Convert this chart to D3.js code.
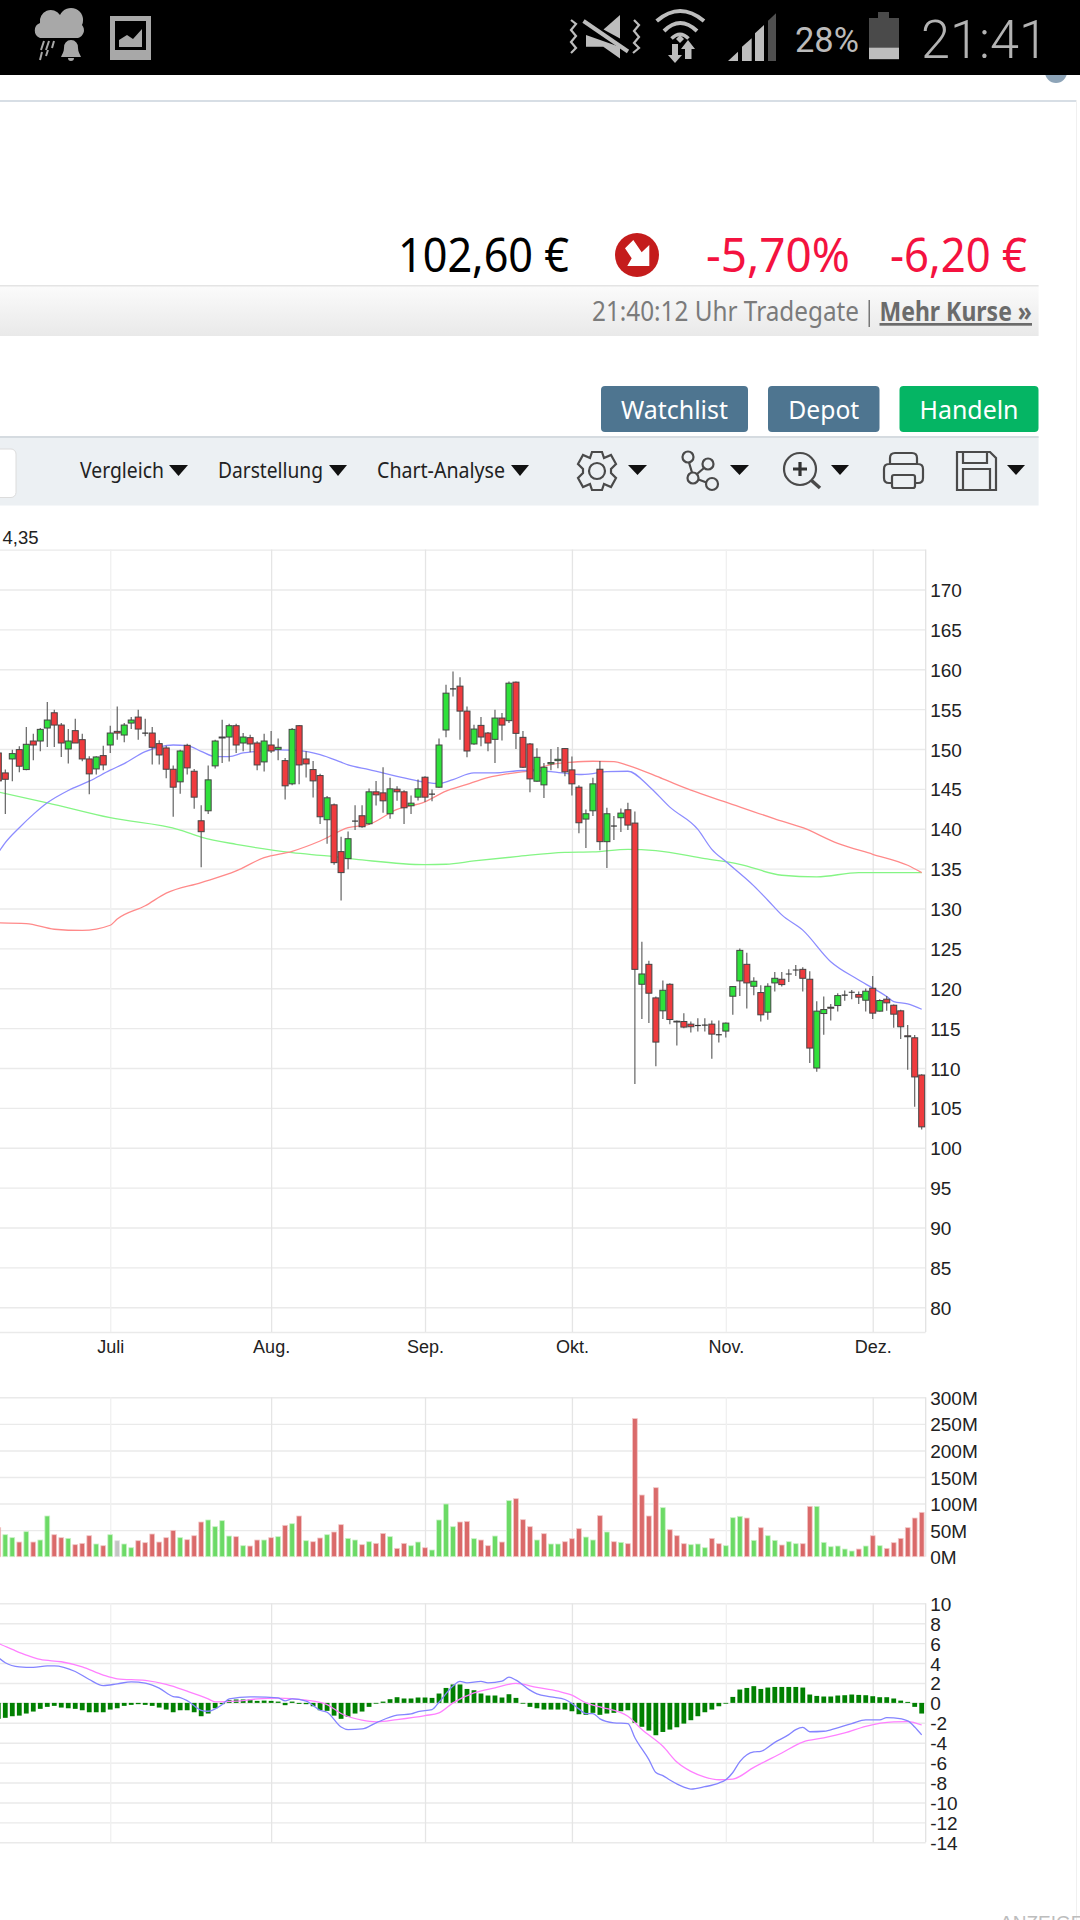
<!DOCTYPE html>
<html><head><meta charset="utf-8">
<script src="https://cdn.jsdelivr.net/npm/d3@7"></script>
<style>html,body{margin:0;padding:0;background:#fff;overflow:hidden}svg{display:block}</style>
</head><body><div id="c"></div>
<script>
// ---- data (first entry = day -1, partly cut by the left edge) ----
const firstDay = -1;
const open = [149.5,147,148.75,149.92,147.42,151,151,152.63,154.54,153,150,152.3,151.17,148.75,147.5,149.17,150.5,152.21,151.75,153.25,154,152,152,150.67,150.13,147.46,145.88,150.46,147.21,141,142.25,147.88,151.38,151.5,152.92,150.75,151.42,150.75,148.38,150.5,149.96,148.54,145.63,152.92,148.75,147.42,146.67,141.13,143,137.13,136.25,140.96,141.63,140.63,144.63,144.5,141.88,144.96,144.63,142.88,143.96,146.46,144.34,145.21,152.38,157.54,157.88,154.75,150.63,152.96,152,151.21,153.88,153.55,158.38,151.46,150.63,145.96,145.5,148.13,148.54,150.05,147.38,145.21,141.21,142.25,147.46,138.38,140.34,141.38,142.38,140.71,120.5,123,118.79,117.17,120.5,115.87,115.83,115.5,115.33,115.38,115.5,114.17,114.63,119,120.92,123,120.25,119.46,117,120.67,121.13,121.79,122.29,122.37,121.13,110,116.83,117.62,117.83,119.13,119.5,119.21,118.5,120,117.13,118.63,117.87,117.17,114.04,113.79,109.12];
const close = [146,146.2,149.42,147.84,150.59,150.5,152.46,153.63,153,150.75,151,150.75,148.75,146.88,149,148,152,152,153,153.63,152.5,152,150.21,149.25,147.46,145.21,149.75,147.63,143.96,139.63,146.13,151,151.5,152.92,150.5,151.5,150.63,148,151,149.75,150.21,145.38,152.46,148,148.13,146,141.5,143.88,135.75,134.5,138.75,140.96,140.25,144.63,144.25,143.5,145,144.63,142.63,143.21,145,143.96,144.34,150.5,157,157.54,154.75,149.75,152.5,151.5,150.75,153.88,153,158.25,151.96,147.71,146.25,148.96,147.71,148.3,148.71,147.13,145.63,140.75,141.88,145.63,138.38,141.88,140.34,141.96,140.46,122.37,121.79,119.38,113.25,119.75,116.08,115.83,115.13,115.17,115.33,115.38,114.25,114.17,115.63,120.21,124.75,120.67,120.88,116.67,120.25,121.25,120.46,121.79,122.29,121.25,112.5,117.13,117.33,117.5,119.08,119.13,119.5,118.88,119.63,116.88,118.46,118.17,116.75,115.17,113.92,108.88,102.62];
const high = [149.7,147.42,149.92,150.34,152.75,151.92,152.63,155.88,154.92,153.25,152.5,153.8,151.92,149.09,149.09,150.42,152.92,155.34,153.25,154,154.92,153.8,152.75,151.09,150.42,147.92,149.92,150.67,147.5,142.96,147.92,151.17,153.67,153.17,153.17,152,151.8,150.96,151.92,152.25,151.3,148.88,152.63,153,149.71,148.5,146.88,144.09,143.17,139,139.67,142.96,142.96,145.05,146,147.71,146.38,145.34,144.84,144.17,146.17,146.59,144.92,151.3,158.05,159.71,159,155.34,153.05,154,152.13,154.92,154.5,158.46,158.46,152.25,150.75,150.09,148.25,150,150.25,150.13,149.05,145.46,142.42,146.38,148.5,142.63,141.59,142.55,143.25,142.17,125.83,123.46,118.96,120.96,120.63,115.96,116.88,115.83,116.25,116.25,115.96,115.96,115.71,120.29,125,124.46,121.38,120.38,120.63,122.04,122.04,122.38,122.92,122.63,122.13,118.38,118.96,118.04,119.38,119.71,119.79,119.58,119.96,121.54,118.63,119.04,117.96,117.29,115.38,114.13,109.21];
const low = [145.3,141.84,145.96,147.09,147.34,148.59,149.71,150.25,150.25,149,148.17,150.75,148.46,144.34,146.8,147.34,149.5,151.17,150.84,152.5,151.17,151.59,148.05,148.05,146.34,141.5,144.38,146.8,142.5,135.17,141.84,147.55,148.25,148.42,149.5,149.71,149.59,147.34,147.17,149.5,148.59,143.67,145.46,145.59,146.42,143.92,140.59,138.13,135.5,131,134.92,139.84,140.13,140.5,142.92,142,141.25,143.5,140.59,141.84,143.55,143.34,143.46,145.13,151.46,156.59,151.17,148.96,150.54,150.34,149.71,148.25,151.05,153.25,150,147.63,144.59,145.88,143.84,147.34,147.59,146.59,144.17,139.42,137.59,141.59,137.3,135.09,138.59,139.59,139.84,108,116.13,115.63,110.21,116.13,115.5,112.83,115,114.46,114.58,114.58,111.17,113.21,113.83,116.67,119.04,117.46,119.13,115.83,116.04,119.58,120.21,120.79,121.54,119.58,110.63,109.54,114.17,115.96,117.08,118.42,118.63,118.04,117.08,116.13,117.08,117.17,115.04,113.63,109.79,105.13,102.29];

const volume = [54.6,41.4,35.8,27.6,47.1,27.6,31.4,76.6,41.4,35.8,34.5,22.6,25.1,39.5,23.9,20.7,41.4,30.1,23.9,16.9,30.1,26.4,42.7,27.6,35.8,49.6,35.8,32,39.5,65.3,69.1,56.5,67.8,38.9,37.7,20.7,20.1,31.4,31.4,35.8,37.7,59,62.1,76.6,30.1,28.2,35.2,41.4,46.5,60.3,34.5,31.4,22.6,28.2,25.1,43.9,37.7,15.7,25.1,20.7,27.6,16.9,12.6,69.1,99.2,56.5,65.3,66.5,33.9,31.4,20.7,38.9,27.6,105.5,109.2,69.7,56.5,31.4,43.3,23.9,23.9,28.2,33.9,52.7,37,31.4,77.2,46.5,28.2,27,24.5,259.9,116.1,76.6,129.9,92.3,50.8,39.5,24.5,22.6,23.9,16.9,34.5,24.5,20.7,73.4,76,72.8,30.8,54.6,39.5,30.8,22,28.2,24.5,24.5,94.8,94.8,27,18.8,20.1,14.4,10.7,14.4,20.1,39.5,20.7,15.7,26.4,34.5,54.6,72.8,83.5];
// g = up, d = down, n = unchanged
const volumeDir = ["d","g","g","d","g","d","g","g","d","d","g","d","d","d","g","d","g","n","g","g","d","d","d","d","d","d","g","d","d","d","g","g","g","g","d","g","d","d","g","d","g","d","g","d","g","d","d","g","d","d","g","g","d","g","d","d","g","d","d","g","g","d","g","g","g","g","d","d","g","d","d","g","d","g","d","d","d","g","d","g","g","d","d","d","g","g","d","g","d","g","d","d","d","d","d","g","d","d","d","g","g","g","d","d","g","g","g","d","g","d","g","g","d","g","g","d","d","g","g","g","g","g","g","d","g","d","g","d","d","d","d","d","d"];

const macdHist = [-1.6,-1.5,-1.34,-1.28,-1.07,-0.87,-0.6,-0.4,-0.3,-0.47,-0.54,-0.6,-0.74,-0.94,-0.94,-0.94,-0.67,-0.54,-0.3,-0.2,-0.13,-0.2,-0.3,-0.47,-0.67,-0.94,-0.74,-0.74,-0.94,-1.34,-1.07,-0.54,-0.13,0.27,0.34,0.34,0.34,0.2,0.23,0.2,0.13,-0.23,0.13,-0.1,-0.13,-0.34,-0.74,-0.8,-1.28,-1.6,-1.4,-1.07,-0.87,-0.4,-0.05,0.13,0.37,0.57,0.44,0.44,0.54,0.54,0.5,0.94,1.5,1.85,1.85,1.4,1.27,0.94,0.74,0.74,0.54,0.87,0.5,0,-0.4,-0.54,-0.67,-0.67,-0.67,-0.67,-0.84,-1.14,-1.2,-1,-1.2,-1.07,-1,-0.84,-0.74,-2,-2.4,-2.78,-3.25,-2.92,-2.68,-2.45,-2.08,-1.74,-1.34,-0.94,-0.67,-0.34,-0.03,0.6,1.34,1.5,1.68,1.4,1.54,1.6,1.6,1.6,1.6,1.54,0.84,0.7,0.64,0.64,0.74,0.77,0.84,0.8,0.77,0.67,0.57,0.57,0.44,0.23,0.1,-0.4,-1.07];

const maBlueDays = [-1,0,2,4,6,9,12,15,17,20,22,24,26,28,30,32,34,36,39,42,45,48,49,52,57,60,62,64,67,70,74,78,82,84,86,89,92,95,99,101,103,107,109,111,114,118,122,126,127,129,131];
const maBlue = [137,138.25,140.13,141.8,143.25,144.8,145.96,147.34,148.17,149.67,150.25,150.5,150.42,149.71,149.05,149.05,149.5,149.71,149.88,149.8,149.3,148.34,148,147.42,146.38,145.84,145.67,146.17,147,147,147.3,147.17,146.8,146.92,147.17,147.21,145.34,142.71,139.92,137.42,135.88,132.84,131.04,129.2,127.29,123.33,121.04,118.96,118.33,118.04,117.37];
const maRedDays = [-1,3,7,11,15,16,20,23,28,33,37,41,45,49,52,56,60,63,66,68,72,75,78,81,84,87,89,94,98,103,110,114,119,124,129,131];
const maRed = [128.2,128.1,127.4,127.25,127.9,128.67,130.34,131.92,133.25,134.71,136.38,137.17,138.46,140.13,140.55,142.42,143.38,144.71,145.55,146.17,146.92,147.3,148.05,148.34,148.46,148.42,147.96,146.25,144.84,143.34,141.25,140.13,138.17,136.8,135.42,134.5];
const maGreenDays = [-1,6,15,25,28,33,35,41,46,51,60,63,67,73,80,84,89,93,100,105,111,116,122,131];
const maGreen = [144.6,143.25,141.38,139.84,138.96,138.05,137.75,137,136.59,136.09,135.5,135.55,135.96,136.5,137.04,137.09,137.42,137.25,136.25,135.54,134.17,133.96,134.5,134.5];

const macdDays = [-1,0,2,4,6,7,10,12,14,16,18,20,22,24,25,26,28,29,31,32,35,39,40,41,43,45,46,48,49,51,53,56,58,59,61,62,64,65,66,68,69,71,72,73,75,76,78,80,81,82,83,84,85,87,89,90,92,93,94,95,97,98,100,102,103,104,105,107,108,110,112,113,114,115,117,118,121,123,125,126,127,129,130,131];
const macdLine = [4.55,4.03,3.62,3.56,3.72,3.72,3.15,2.35,1.74,1.91,2.11,1.98,1.48,0.64,0.54,0.23,-0.74,-0.84,-0.17,0.4,0.6,0.5,0.2,0.4,0.17,-0.74,-0.94,-2.42,-2.68,-2.62,-2,-1.24,-1.11,-0.87,-0.67,0.07,1.7,2.15,2,2.15,2,2.18,2.58,2.28,1.28,0.9,0.6,0.34,-0.07,-0.6,-1.07,-1.07,-1.6,-2,-2.08,-3.5,-5.7,-7,-7.3,-7.75,-8.46,-8.66,-8.42,-8.05,-7.72,-6.99,-5.9,-4.93,-4.87,-3.96,-3.19,-2.68,-2.45,-2.9,-2.85,-2.7,-2.08,-1.71,-1.71,-1.48,-1.51,-1.8,-2.42,-3.22];
const signalDays = [-1,1,3,5,8,11,14,16,20,23,26,29,30,33,36,39,43,46,48,51,53,56,60,62,64,67,70,73,76,79,81,83,85,89,91,94,96,98,100,102,104,107,111,114,117,120,123,127,129,131];
const signalLine = [5.97,5.37,4.8,4.36,4.13,3.62,2.79,2.42,2.25,1.85,1.17,0.4,0.1,0.17,0.4,0.47,0.27,-0.17,-1.07,-1.74,-1.91,-1.68,-1.28,-1,0,1,1.51,1.95,1.55,1.17,0.77,0,-0.4,-1.34,-2.68,-4.36,-5.94,-6.88,-7.45,-7.72,-7.65,-6.48,-5.03,-3.93,-3.52,-3.02,-2.35,-1.91,-1.88,-2.22];

const priceTicks = [170,165,160,155,150,145,140,135,130,125,120,115,110,105,100,95,90,85,80];
const priceGrid = [175,...priceTicks,76.9];
const volumeTicks = [300,250,200,150,100,50,0];
const macdTicks = [10,8,6,4,2,0,-2,-4,-6,-8,-10,-12,-14];
const monthDays = [15,38,60,81,103,124];
const monthLabels = ["Juli","Aug.","Sep.","Okt.","Nov.","Dez."];

// ---- scales ----
const plotRight = 925.7;
const x = d3.scaleLinear().domain([0,131]).range([5.3,921.7]);
const yP = d3.scaleLinear().domain([76.9,175]).range([1332,549.6]);
const yV = d3.scaleLinear().domain([0,300]).range([1556.7,1397.3]);
const yM = d3.scaleLinear().domain([-14,10]).range([1842.3,1603.3]);
const days = open.map((_,i)=>i+firstDay);

const svg = d3.select("#c").append("svg").attr("width",1080).attr("height",1920).attr("viewBox","0 0 1080 1920");
const AX = "'Liberation Sans',Arial,sans-serif", UI = "'Noto Sans','Open Sans',sans-serif";
const defs = svg.append("defs");
defs.append("clipPath").attr("id","plot").append("rect").attr("x",0).attr("y",540).attr("width",plotRight).attr("height",1320);
const grad = defs.append("linearGradient").attr("id","bar").attr("x1",0).attr("x2",0).attr("y1",0).attr("y2",1);
grad.append("stop").attr("offset",0).attr("stop-color","#fbfbfb");
grad.append("stop").attr("offset",1).attr("stop-color","#e9e9e9");

function txt(s,x0,y0,size,fill,opts={}){
  const t = svg.append("text").attr("x",x0).attr("y",y0).attr("font-size",size).attr("fill",fill)
    .attr("font-family",opts.family||UI).text(s);
  if(opts.len){t.attr("textLength",opts.len).attr("lengthAdjust","spacingAndGlyphs");}
  if(opts.anchor)t.attr("text-anchor",opts.anchor);
  if(opts.weight)t.attr("font-weight",opts.weight);
  if(opts.deco)t.attr("text-decoration",opts.deco);
  return t;
}
const tri=(x0,x1,y0,y1,f="#111")=>svg.append("path").attr("d",`M${x0} ${y0}L${x1} ${y0}L${(x0+x1)/2} ${y1}Z`).attr("fill",f);

// ---- page chrome ----
svg.append("circle").attr("cx",1056).attr("cy",72).attr("r",11).attr("fill","#8da4b8");
svg.append("rect").attr("width",1080).attr("height",75).attr("fill","#000");
svg.append("rect").attr("x",0).attr("y",100).attr("width",1076).attr("height",2).attr("fill","#d7dee5");
svg.append("rect").attr("x",1076).attr("y",100).attr("width",1).attr("height",1820).attr("fill","#f0f0f0");

const G="#a8a8a8", S="#bdbdbd";
// cloud + rain + bell
svg.append("path").attr("fill",G).attr("d","M40 38a8 8 0 0 1 0-15 11 11 0 0 1 20-8 10 10 0 0 1 22 10 8 8 0 0 1-4 13Z");
svg.append("path").attr("stroke",G).attr("stroke-width",2).attr("d","M44 41l-3 9M49 41l-3 9M54 41l-2 7M42 52l-2 8M48 50l-2 6");
svg.append("path").attr("fill",G).attr("d","M71 40a7 7 0 0 0-7 8c0 4-2 6-3 9h20c-1-3-3-5-3-9a7 7 0 0 0-7-8ZM68 58a3 3 0 0 0 6 0Z");
// picture icon
svg.append("rect").attr("x",110).attr("y",16).attr("width",41).attr("height",44).attr("fill",G);
svg.append("rect").attr("x",115).attr("y",21).attr("width",31).attr("height",29).attr("fill","#000");
svg.append("path").attr("fill",G).attr("d","M119 47L119 40L127 35L133 39L142 29L142 47Z");
// mute
svg.append("path").attr("fill",S).attr("d","M603.5 29.5L620 15L620 38.5Z");
svg.append("path").attr("fill",S).attr("d","M586 35L586 46.7L603.3 46.7L620 58.5L620 47Z");
svg.append("path").attr("stroke",S).attr("stroke-width",4).attr("d","M583.5 21L628 51.5");
svg.append("path").attr("stroke",S).attr("stroke-width",2.2).attr("fill","none").attr("d","M571 20L576 24L571 30L576 36L571 42L576 48L571 53M634 20L639 25L634 31L639 37L634 43L639 48L633 53");
// wifi
const wifi=svg.append("g").attr("fill","none").attr("stroke",S).attr("stroke-linecap","butt");
wifi.append("path").attr("stroke-width",4).attr("d","M656.7 21Q680 1 704 21");
wifi.append("path").attr("stroke-width",4).attr("d","M664 31Q680 15 697 31");
wifi.append("path").attr("stroke-width",3.5).attr("d","M671.5 38.5Q680 30 688.5 38.5");
svg.append("path").attr("fill",S).attr("d","M676 39L680 35L684 39L680 43Z");
svg.append("path").attr("fill",S).attr("d","M672 44L678 44L678 55L682 55L675 63L668 55L672 55ZM688 40L695 49L691.5 49L691.5 59L685 59L685 49L681 49Z");
// signal
svg.append("path").attr("fill",S).attr("d","M728 61L738 61L738 51.7Z");
svg.append("path").attr("fill",S).attr("d","M742 61L751.7 61L751.7 38.3L742 46.7Z");
svg.append("path").attr("fill",S).attr("d","M755 61L764 61L764 25L755 33.3Z");
svg.append("path").attr("fill","#505050").attr("d","M768 61L776 61L776 13.3L768 20.7Z");
txt("28%",795,52,35,"#bbb",{family:"Roboto,sans-serif",len:64});
svg.append("rect").attr("x",878).attr("y",12).attr("width",11).attr("height",6).attr("fill","#4a4a4a");
svg.append("rect").attr("x",869).attr("y",18).attr("width",30).attr("height",30).attr("fill","#4a4a4a");
svg.append("rect").attr("x",869).attr("y",47.7).attr("width",30).attr("height",11.5).attr("fill",S);
txt("21:41",921,58,53,"#b3b3b3",{family:"Roboto,sans-serif",len:127,weight:300});

// price line
txt("102,60 €",398,272,47,"#000",{len:171});
svg.append("circle").attr("cx",637).attr("cy",255).attr("r",22).attr("fill","#c41c1c");
svg.append("path").attr("fill","#fff").attr("d","M633.3 240L625 248.3L631.7 258.3L627.3 266L649.3 266L649.3 245L641.7 252.3Z");
txt("-5,70%",706,272,47,"#f4123f",{len:144});
txt("-6,20 €",890,272,47,"#f4123f",{len:137});

svg.append("rect").attr("y",286).attr("width",1038.6).attr("height",50).attr("fill","url(#bar)");
svg.append("rect").attr("y",285).attr("width",1038.6).attr("height",1.5).attr("fill","#e4e4e4");
txt("21:40:12 Uhr Tradegate",592,321,27,"#7b7b7b",{len:267});
svg.append("rect").attr("x",868.5).attr("y",300).attr("width",1.5).attr("height",27).attr("fill","#777");
txt("Mehr Kurse »",879.5,321,27,"#6b6b6b",{len:152.5,weight:700,deco:"underline"});

// buttons
[["Watchlist",601,147,"#4e7590",107],["Depot",768,111.5,"#4e7590",71],["Handeln",899.5,139,"#05b564",99]].forEach(([s,bx,w,f,len])=>{
  svg.append("rect").attr("x",bx).attr("y",386).attr("width",w).attr("height",46).attr("rx",4).attr("fill",f);
  txt(s,bx+w/2,419,26,"#fff",{anchor:"middle",len});
});

// toolbar
svg.append("rect").attr("y",437).attr("width",1038.6).attr("height",68.5).attr("fill","#ecf0f3");
svg.append("rect").attr("y",436).attr("width",1038.6).attr("height",2).attr("fill","#d5dbe0");
svg.append("rect").attr("x",-10).attr("y",449).attr("width",26).attr("height",48.5).attr("rx",5).attr("fill","#fff").attr("stroke","#dcdcdc");
txt("Vergleich",80,478,22,"#222",{len:84});
tri(169,188,465,476);
txt("Darstellung",218,478,22,"#222",{len:105});
tri(329,347,465,476);
txt("Chart-Analyse",377,478,22,"#222",{len:128});
tri(511,529,465,476);
const ic=svg.append("g").attr("fill","none").attr("stroke","#4a4a4a").attr("stroke-width",2.2);
// gear
ic.append("path").attr("d","M592 452L602 452L604 458L611 455L616 464L611 469L611 473L616 478L611 487L604 484L602 490L592 490L590 484L583 487L578 478L583 473L583 469L578 464L583 455L590 458Z");
ic.append("circle").attr("cx",597).attr("cy",471).attr("r",8);
tri(628,647,465,475,"#111");
// network
[[688,457,5.5],[708,464,5.5],[693,478,5.5],[712,484,6]].forEach(([cx,cy,r])=>ic.append("circle").attr("cx",cx).attr("cy",cy).attr("r",r));
ic.append("path").attr("d","M689 462.5L692 472.5M704 468L697 474M698.5 479.5L706.5 482.5");
tri(730,749,465,475,"#111");
// zoom
ic.append("circle").attr("cx",800).attr("cy",469).attr("r",16);
ic.append("path").attr("stroke-width",3.5).attr("d","M811 480L820 488");
svg.append("path").attr("stroke","#333").attr("stroke-width",3.2).attr("d","M793 469L807 469M800 462L800 476");
tri(831,849,465,475,"#111");
// printer
ic.append("path").attr("d","M890 464L890 458Q890 453 895 453L912 453Q917 453 917 458L917 464M892 483L889 483Q884 483 884 478L884 469Q884 464 889 464L918 464Q923 464 923 469L923 478Q923 483 918 483L915 483");
ic.append("rect").attr("x",892).attr("y",475).attr("width",23).attr("height",13).attr("rx",2);
// floppy
ic.append("path").attr("d","M957 452L990 452L996 458L996 490L957 490Z M963 452L963 463L987 463L987 452 M963 490L963 469L990 469L990 490");
tri(1007,1025,465,475,"#111");

txt("4,35",38.5,544,18.5,"#222",{family:AX,anchor:"end"});

// ---- panels: grid and axes ----
function hAxis(scale,ticks,fmt){
  const g = svg.append("g").attr("transform",`translate(${plotRight},0)`)
    .call(d3.axisRight(scale).tickValues(ticks).tickSize(-plotRight).tickPadding(4.5).tickFormat(fmt));
  g.select(".domain").remove();
  g.selectAll("line").attr("stroke","#eaeaea").attr("stroke-width",1.4);
  g.selectAll("text").attr("font-family",AX).attr("font-size",19).attr("fill","#222").attr("dy","0.37em");
  return g;
}
function vGrid(scale){
  const [b,t]=scale.range();
  const g = svg.append("g").attr("transform",`translate(0,${b})`)
    .call(d3.axisBottom(x).tickValues(monthDays).tickSize(-(b-t)).tickFormat(""));
  g.select(".domain").remove();
  g.selectAll("line").attr("stroke",d=>(d===15||d===103)?"#f0f0f0":"#e5e5e5").attr("stroke-width",1.3);
  g.selectAll("text").remove();
  svg.append("line").attr("x1",plotRight).attr("x2",plotRight).attr("y1",t).attr("y2",b).attr("stroke","#e2e2e2").attr("stroke-width",1.3);
}
const pg = hAxis(yP,priceGrid,d=>d);
pg.selectAll(".tick text").filter(d=>d===175||d===76.9).remove();
vGrid(yP);
const mAxis = svg.append("g").attr("transform",`translate(0,${yP.range()[0]})`)
  .call(d3.axisBottom(x).tickValues(monthDays).tickSize(0).tickPadding(8.2).tickFormat((d,i)=>monthLabels[i]));
mAxis.select(".domain").remove();
mAxis.selectAll("text").attr("font-family",AX).attr("font-size",18).attr("fill","#222");

const vg = hAxis(yV,volumeTicks,d=>d+"M");
vg.selectAll(".tick line").filter(d=>d===0).remove();
vGrid(yV);
hAxis(yM,macdTicks,d=>d);
vGrid(yM);

const clip = svg.append("g").attr("clip-path","url(#plot)");

// ---- moving averages ----
const linePts=(ds,vs)=>ds.map((d,i)=>[d,vs[i]]);
function drawLine(ds,vs,scale,col,w=1.3){
  clip.append("path").datum(linePts(ds,vs)).attr("fill","none").attr("stroke",col).attr("stroke-width",w)
    .attr("d",d3.line().x(d=>x(d[0])).y(d=>scale(d[1])).curve(d3.curveMonotoneX));
}
drawLine(maGreenDays,maGreen,yP,"#85f585");
drawLine(maRedDays,maRed,yP,"#ff8a8a");
drawLine(maBlueDays,maBlue,yP,"#8c8cff");

// ---- candles ----
const candles = clip.append("g");
days.forEach((d,i)=>{
  const o=open[i],c=close[i];
  const cx=x(d);
  candles.append("line").attr("x1",cx).attr("x2",cx).attr("y1",yP(high[i])).attr("y2",yP(low[i])).attr("stroke","#555").attr("stroke-width",1.1);
  if(o===c){
    candles.append("line").attr("x1",cx-3).attr("x2",cx+3).attr("y1",yP(o)).attr("y2",yP(o)).attr("stroke","#333").attr("stroke-width",1.2);
  } else {
    const top=yP(Math.max(o,c)),bot=yP(Math.min(o,c));
    candles.append("rect").attr("x",cx-3).attr("width",6).attr("y",top).attr("height",Math.max(bot-top,0.8))
      .attr("fill",c>o?"#2fe13b":"#ef3b3e").attr("stroke","#444").attr("stroke-width",1);
  }
});

// ---- volume ----
const volCol={g:"#6cda66",d:"#da6a6a",n:"#c4c4c4"}, volEdge={g:"#c9f2c6",d:"#f2c9c9",n:"#e4e4e4"};
clip.append("g").selectAll("rect").data(days).join("rect")
  .attr("x",d=>x(d)-2.4).attr("width",4.8)
  .attr("y",(d,i)=>yV(volume[i])).attr("height",(d,i)=>yV(0)-yV(volume[i]))
  .attr("fill",(d,i)=>volCol[volumeDir[i]]).attr("stroke",(d,i)=>volEdge[volumeDir[i]]).attr("stroke-width",0.8);

// ---- MACD ----
clip.append("g").selectAll("rect").data(days).join("rect")
  .attr("x",d=>x(d)-2.4).attr("width",4.8)
  .attr("y",(d,i)=>Math.min(yM(0),yM(macdHist[i])))
  .attr("height",(d,i)=>Math.max(Math.abs(yM(macdHist[i])-yM(0)),0.8))
  .attr("fill","#018001");
drawLine(signalDays,signalLine,yM,"#ff80ff");
drawLine(macdDays,macdLine,yM,"#8484ff");

txt("ANZEIGE",1000,1929,19,"#bdbdbd",{family:AX});
</script></body></html>
